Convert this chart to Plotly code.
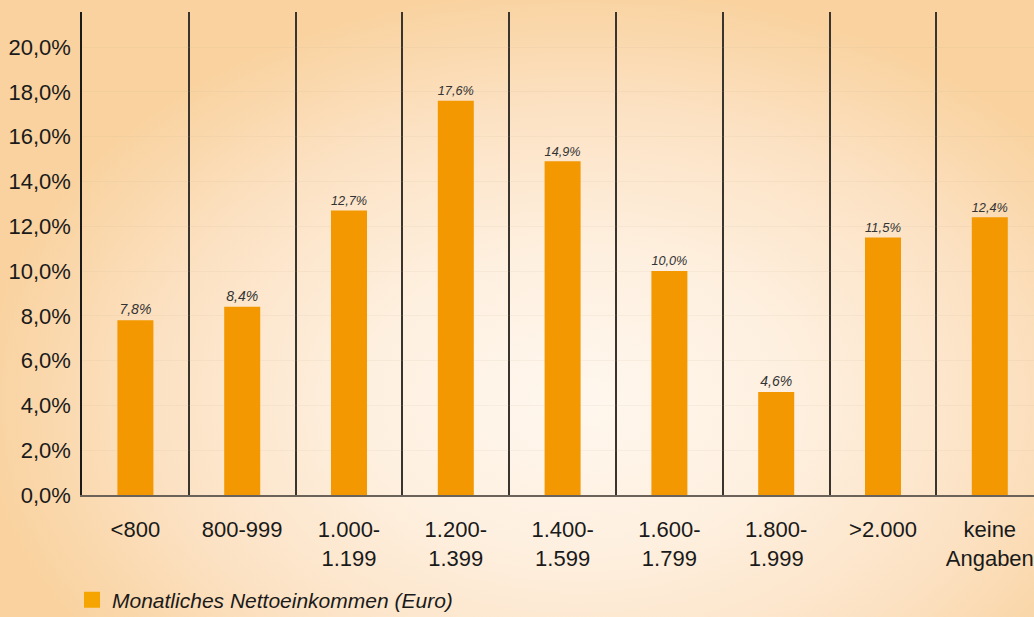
import plotly.graph_objects as go

categories = ["<800", "800-999", "1.000-<br>1.199", "1.200-<br>1.399", "1.400-<br>1.599",
              "1.600-<br>1.799", "1.800-<br>1.999", ">2.000", "keine<br>Angaben"]
values = [7.8, 8.4, 12.7, 17.6, 14.9, 10.0, 4.6, 11.5, 12.4]
value_labels = ["7,8%", "8,4%", "12,7%", "17,6%", "14,9%", "10,0%", "4,6%", "11,5%", "12,4%"]
y_ticks = [0, 2, 4, 6, 8, 10, 12, 14, 16, 18, 20]
y_ticktext = ["0,0%", "2,0%", "4,0%", "6,0%", "8,0%", "10,0%", "12,0%", "14,0%", "16,0%", "18,0%", "20,0%"]
legend_name = "Monatliches Nettoeinkommen (Euro)"

W, H = 1034, 617
FONT = "Liberation Sans Narrow, Arial Narrow, Liberation Sans, Arial, sans-serif"
xpos = list(range(len(categories)))

fig = go.Figure()

# background radial gradient (light spot slightly right of and below the centre)
fig.add_trace(go.Scatter(
    x=[-0.02, 1.14, 1.14, -0.02, -0.02], y=[-0.32, -0.32, 1.02, 1.02, -0.32],
    mode="lines", fill="toself",
    line=dict(width=0), hoverinfo="skip", showlegend=False,
    fillgradient=dict(type="radial",
                      colorscale=[[0, "#FFF7EE"], [0.35, "#FEF0E0"], [0.7, "#FCE2C4"], [1, "#F9D29F"]]),
    xaxis="x", yaxis="y",
))

fig.add_trace(go.Bar(
    x=xpos, y=values, width=0.337, marker=dict(color="#F39800", line=dict(width=0)),
    text=value_labels, textposition="outside", cliponaxis=False,
    textfont=dict(family=FONT, size=14, color="#333333", style="italic"),
    showlegend=False, xaxis="x2", yaxis="y2",
))

fig.add_trace(go.Scatter(
    x=[None], y=[None], mode="markers", name=legend_name,
    marker=dict(symbol="square", size=19, color="#F5A400"),
    xaxis="x2", yaxis="y2",
))

x0 = 82 / W
y0 = 122 / H
y1 = (H - 12) / H

fig.update_layout(
    width=W, height=H,
    margin=dict(l=0, r=0, t=0, b=0, autoexpand=False),
    paper_bgcolor="#FDE6C8", plot_bgcolor="rgba(0,0,0,0)",
    font=dict(family=FONT, size=22, color="#1a1a1a"),
    xaxis=dict(domain=[0, 1], range=[0, 1], visible=False, fixedrange=True),
    yaxis=dict(domain=[0, 1], range=[0, 1], visible=False, fixedrange=True),
    xaxis2=dict(
        domain=[x0, 1], anchor="y2", range=[-0.5, -0.5 + (W - 82) / 106.8],
        tickvals=xpos, ticktext=categories, showgrid=False, ticks="",
        ticklabelstandoff=14,
        tickfont=dict(family=FONT, size=22, color="#1a1a1a"),
        showline=True, linecolor="#6b6259", linewidth=1.5, zeroline=False,
        minor=dict(tick0=0.5, dtick=1, showgrid=True, gridcolor="#3a342e", gridwidth=1.5, ticks=""),
    ),
    yaxis2=dict(
        domain=[y0, y1], anchor="x2", range=[0, (495 - 12) / 22.4],
        tickvals=y_ticks, ticktext=y_ticktext, ticks="",
        ticklabelstandoff=5,
        tickfont=dict(family=FONT, size=22, color="#1a1a1a"),
        showgrid=True, gridcolor="rgba(200,180,150,0.12)", gridwidth=1,
        showline=True, linecolor="#1a1a1a", linewidth=1.5, zeroline=False,
    ),
    legend=dict(
        x=72 / W, y=(617 - 600) / H, xref="paper", yref="paper", xanchor="left", yanchor="middle",
        bgcolor="rgba(0,0,0,0)", font=dict(family=FONT, size=21, color="#1a1a1a", style="italic"),
        itemwidth=30,
    ),
    showlegend=True,
)

fig.write_html("out.html")
